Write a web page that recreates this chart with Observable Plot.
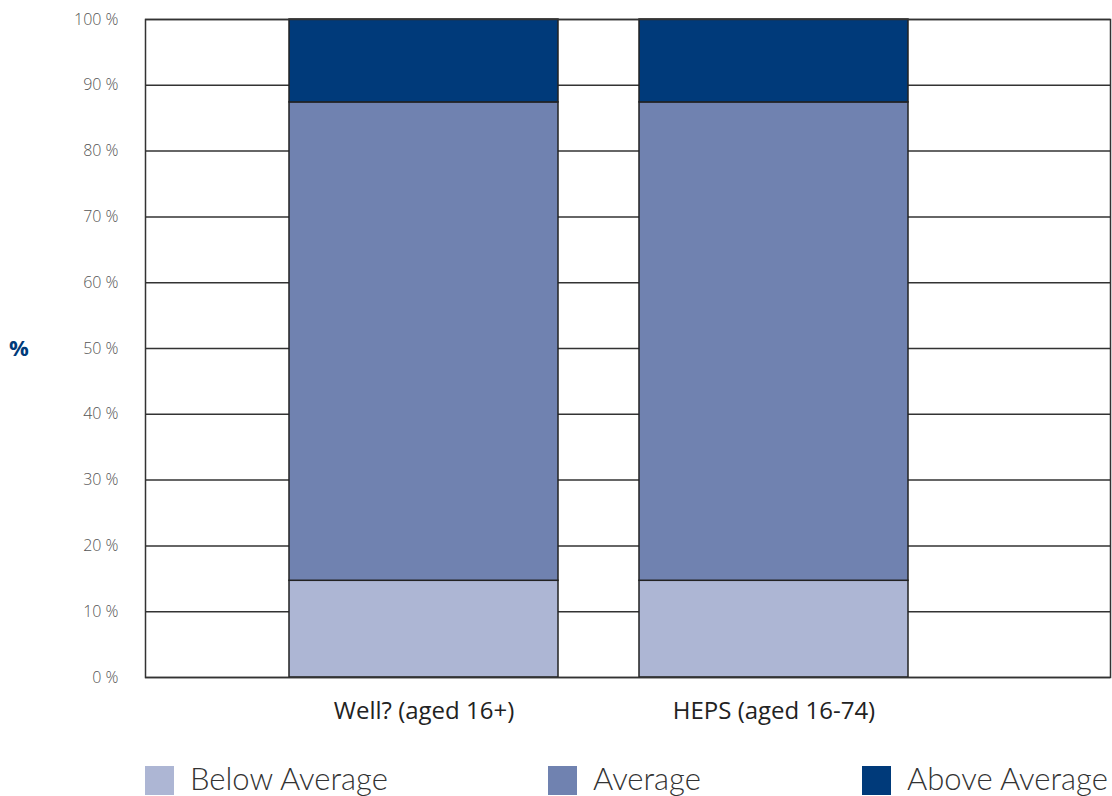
<!DOCTYPE html>
<html>
<head>
<meta charset="utf-8">
<script src="https://cdn.jsdelivr.net/npm/d3@7"></script>
<script src="https://cdn.jsdelivr.net/npm/@observablehq/plot@0.6"></script>
<style>
  html, body { margin: 0; padding: 0; background: #fff; }
  #wrap { position: relative; width: 1112px; height: 796px; overflow: hidden; }
  #pct { position: absolute; left: 9px; top: 332px; font-family: "Open Sans", sans-serif; font-weight: bold; font-size: 22px; color: #003a7a; }
  #legend { position: absolute; left: 0; top: 759px; width: 1112px; height: 37px; font-family: "Lato", "Open Sans", sans-serif; font-weight: 300; font-size: 31px; color: #333; }
  .item { position: absolute; top: 0; display: flex; align-items: center; }
  .sw { width: 29px; height: 29px; margin-right: 16px; margin-top: 4px; }
</style>
</head>
<body>
<div id="wrap">
  <div id="chart"></div>
  <div id="pct">%</div>
  <div id="legend"></div>
</div>
<script>
const categories = ["Well? (aged 16+)", "HEPS (aged 16-74)"];
const seriesNames = ["Below Average", "Average", "Above Average"];
const belowAverage = [14.7, 14.7];
const average = [72.7, 72.7];
const aboveAverage = [12.6, 12.6];
const colors = ["#adb6d4", "#7082b0", "#003a7a"];
const yTicks = [0, 10, 20, 30, 40, 50, 60, 70, 80, 90, 100];

const series = [belowAverage, average, aboveAverage];
const data = [];
categories.forEach((c, i) => {
  seriesNames.forEach((s, j) => data.push({category: c, series: s, value: series[j][i]}));
});

const chart = Plot.plot({
  width: 1112,
  height: 740,
  marginLeft: 145,
  marginRight: 2,
  marginTop: 19,
  marginBottom: 63,
  style: {fontFamily: "'Open Sans', sans-serif", background: "#fff"},
  x: {domain: categories, range: [248.5, 948.5], paddingInner: 0.2314, paddingOuter: 0.1157, label: null},
  y: {domain: [0, 100], label: null},
  color: {domain: seriesNames, range: colors},
  marks: [
    Plot.ruleY(yTicks, {stroke: "#333", strokeWidth: 1.5}),
    Plot.barY(data, {x: "category", y: "value", fill: "series", order: seriesNames, stroke: "#222", strokeWidth: 1.5}),
    Plot.frame({stroke: "#333", strokeWidth: 1.5}),
    Plot.axisY(yTicks, {tickSize: 0, tickPadding: 27, tickFormat: d => d + " %", fontSize: 16, fill: "#555", fontWeight: 300, label: null}),
    Plot.axisX({tickSize: 0, tickPadding: 24, fontSize: 24, fill: "#222", label: null})
  ]
});
document.getElementById("chart").appendChild(chart);

const legendPos = [145, 548, 862];
const legend = document.getElementById("legend");
seriesNames.forEach((s, i) => {
  const it = document.createElement("div");
  it.className = "item";
  it.style.left = legendPos[i] + "px";
  const sw = document.createElement("div");
  sw.className = "sw";
  sw.style.background = colors[i];
  const t = document.createElement("span");
  t.textContent = s;
  it.appendChild(sw);
  it.appendChild(t);
  legend.appendChild(it);
});
</script>
</body>
</html>
